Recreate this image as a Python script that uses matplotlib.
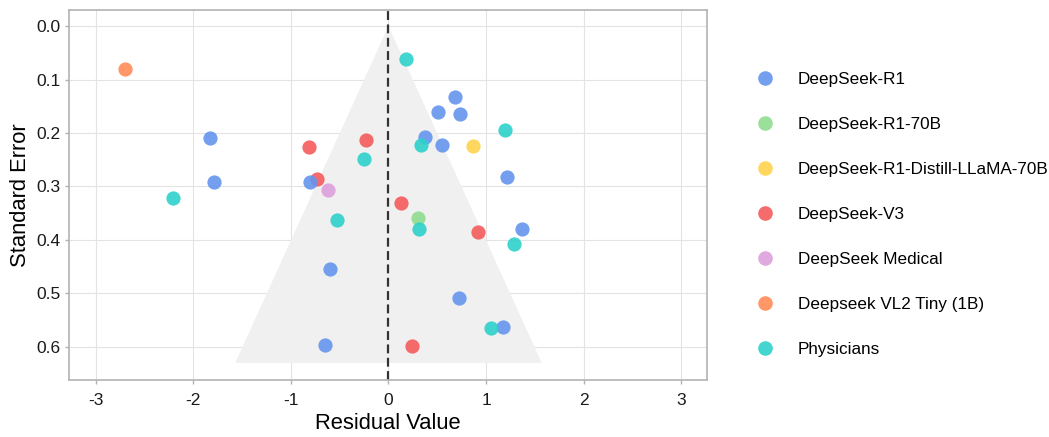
import numpy as np
import matplotlib
matplotlib.use('Agg')
import matplotlib.pyplot as plt
from matplotlib.lines import Line2D
from matplotlib.ticker import FormatStrFormatter

plt.rcParams['font.family'] = ['Liberation Sans', 'DejaVu Sans']
plt.rcParams['axes.unicode_minus'] = False

# Groups in legend order
groups = [
    'DeepSeek-R1',
    'DeepSeek-R1-70B',
    'DeepSeek-R1-Distill-LLaMA-70B',
    'DeepSeek-V3',
    'DeepSeek Medical',
    'Deepseek VL2 Tiny (1B)',
    'Physicians',
]
colors = ['#6495ED', '#8FDC8F', '#FFD34E', '#F55B5B', '#DDA0DD', '#FF8C57', '#2ED1CB']

# Residuals and standard errors per group
r1_resid = [-1.83, -1.79, -0.80, 0.68, 0.51, 0.73, 0.375, 0.55, 1.21, 1.37, 0.724, 1.175, -0.60, -0.65]
r1_se = [0.209, 0.291, 0.291, 0.133, 0.160, 0.164, 0.208, 0.222, 0.282, 0.379, 0.508, 0.562, 0.455, 0.596]
r1_70b_resid = [0.30]
r1_70b_se = [0.359]
distill_resid = [0.865]
distill_se = [0.224]
v3_resid = [-0.81, -0.23, -0.73, 0.126, 0.916, 0.242]
v3_se = [0.226, 0.2125, 0.286, 0.331, 0.386, 0.599]
medical_resid = [-0.62]
medical_se = [0.307]
vl2_resid = [-2.70]
vl2_se = [0.080]
phys_resid = [-2.21, -0.25, -0.53, 0.18, 1.19, 0.33, 0.31, 1.29, 1.046]
phys_se = [0.321, 0.248, 0.363, 0.062, 0.194, 0.223, 0.379, 0.408, 0.564]

series = [
    (r1_resid, r1_se),
    (r1_70b_resid, r1_70b_se),
    (distill_resid, distill_se),
    (v3_resid, v3_se),
    (medical_resid, medical_se),
    (vl2_resid, vl2_se),
    (phys_resid, phys_se),
]

# Funnel region
funnel_se_max = 0.63
funnel_half_width = 1.57

x_ticks = [-3, -2, -1, 0, 1, 2, 3]
y_ticks = [0.0, 0.1, 0.2, 0.3, 0.4, 0.5, 0.6]

fig = plt.figure(figsize=(10.49, 4.37), dpi=100)
ax = fig.add_axes([0.066, 0.1304, 0.6077, 0.8467])

ax.fill([0, -funnel_half_width, funnel_half_width], [0, funnel_se_max, funnel_se_max],
        color='#F0F0F0', zorder=1, linewidth=0)
ax.axvline(0, color='#333333', linestyle=(0, (4, 2)), linewidth=1.6, zorder=2)

# draw order so that overlaps look like the original
draw_order = [3, 0, 1, 2, 4, 5, 6]
for i in draw_order:
    xs, ys = series[i]
    ax.scatter(xs, ys, s=105, color=colors[i], alpha=0.9, linewidths=0, zorder=3)

ax.set_xlim(-3.27, 3.26)
ax.set_ylim(0.662, -0.030)
ax.set_xticks(x_ticks)
ax.set_yticks(y_ticks)
ax.yaxis.set_major_formatter(FormatStrFormatter('%.1f'))
ax.grid(True, color='#E3E3E3', linewidth=0.8, zorder=0)
ax.set_axisbelow(True)
for sp in ax.spines.values():
    sp.set_color('#B3B3B3')
    sp.set_linewidth(1.2)
ax.tick_params(colors='#B3B3B3', labelcolor='#1A1A1A', labelsize=12.5, length=3, width=1)
ax.tick_params(axis='x', pad=6.6)
ax.tick_params(axis='y', pad=3)
ax.set_xlabel('Residual Value', fontsize=15.8, labelpad=3)
ax.set_ylabel('Standard Error', fontsize=15.8, labelpad=4)

handles = [Line2D([], [], linestyle='none', marker='o', markersize=10.5,
                  markerfacecolor=c, markeredgewidth=0, alpha=0.9) for c in colors]
fig.legend(handles, groups, loc='upper left', bbox_to_anchor=(0.711, 0.854),
           frameon=False, fontsize=12.3, labelspacing=1.75, handletextpad=1.33,
           handlelength=1.2, borderpad=0)

fig.savefig('out.png', dpi=100)
